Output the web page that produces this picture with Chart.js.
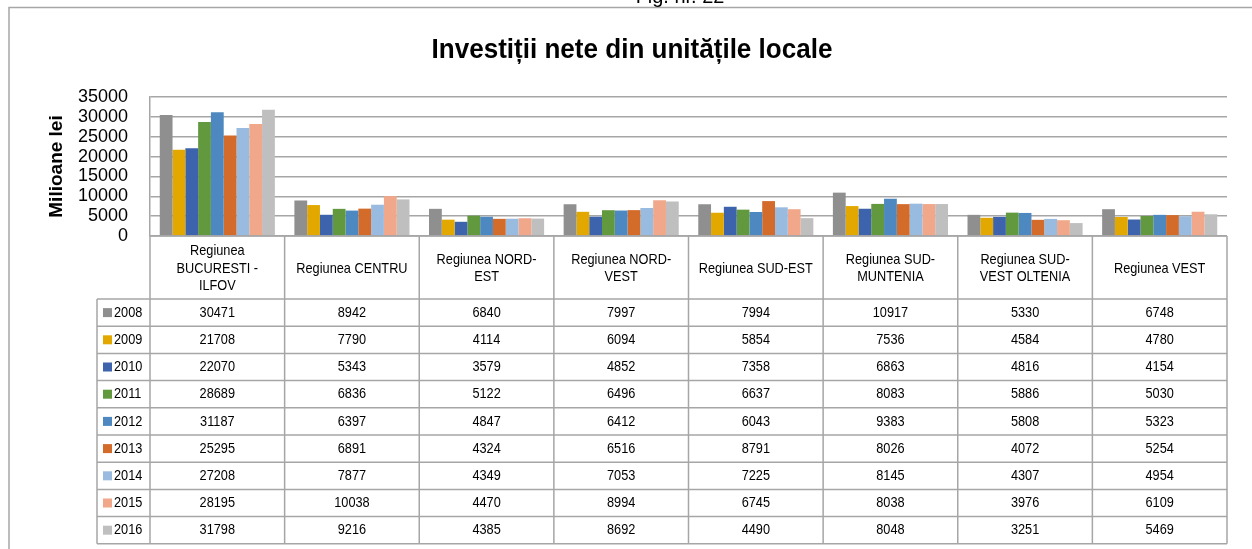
<!DOCTYPE html>
<html>
<head>
<meta charset="utf-8">
<script src="https://cdn.jsdelivr.net/npm/chart.js@4/dist/chart.umd.min.js"></script>
<style>
  html, body { margin: 0; padding: 0; background: #ffffff; }
  #wrap { width: 1252px; height: 549px; position: relative; }
</style>
</head>
<body>
<div id="wrap"><canvas id="c" width="1252" height="549"></canvas></div>
<script>
const categories = [
  ["Regiunea", "BUCURESTI -", "ILFOV"],
  ["Regiunea CENTRU"],
  ["Regiunea NORD-", "EST"],
  ["Regiunea NORD-", "VEST"],
  ["Regiunea SUD-EST"],
  ["Regiunea SUD-", "MUNTENIA"],
  ["Regiunea SUD-", "VEST OLTENIA"],
  ["Regiunea VEST"]
];
const years = ["2008", "2009", "2010", "2011", "2012", "2013", "2014", "2015", "2016"];
const v2008 = [30471, 8942, 6840, 7997, 7994, 10917, 5330, 6748];
const v2009 = [21708, 7790, 4114, 6094, 5854, 7536, 4584, 4780];
const v2010 = [22070, 5343, 3579, 4852, 7358, 6863, 4816, 4154];
const v2011 = [28689, 6836, 5122, 6496, 6637, 8083, 5886, 5030];
const v2012 = [31187, 6397, 4847, 6412, 6043, 9383, 5808, 5323];
const v2013 = [25295, 6891, 4324, 6516, 8791, 8026, 4072, 5254];
const v2014 = [27208, 7877, 4349, 7053, 7225, 8145, 4307, 4954];
const v2015 = [28195, 10038, 4470, 8994, 6745, 8038, 3976, 6109];
const v2016 = [31798, 9216, 4385, 8692, 4490, 8048, 3251, 5469];
const seriesValues = [v2008, v2009, v2010, v2011, v2012, v2013, v2014, v2015, v2016];
const yTicks = [0, 5000, 10000, 15000, 20000, 25000, 30000, 35000];
const titleText = 'Investiții nete din unitățile locale';
const figText = 'Fig. nr. 22';

const colors = ["#8f8f8f", "#e2a800", "#3d63ad", "#62993e", "#4e88c0", "#d36c2b", "#9abbe0", "#f0a78a", "#bfbfbf"];
const lineColor = "#a6a6a6";
const sans = "'Liberation Sans', Arial, sans-serif";

function narrowText(ctx, text, x, y, sx) {
  ctx.save();
  ctx.translate(x, y);
  ctx.scale(sx, 1);
  ctx.fillText(text, 0, 0);
  ctx.restore();
}

const datasets = years.map((y, i) => ({
  label: y,
  data: seriesValues[i],
  backgroundColor: colors[i],
  borderWidth: 0,
  categoryPercentage: 0.855,
  barPercentage: 1.0
}));

const frame = {
  id: 'frame',
  beforeDraw(chart) {
    const ctx = chart.ctx;
    ctx.save();
    ctx.strokeStyle = lineColor;
    ctx.lineWidth = 1.5;
    ctx.beginPath();
    ctx.moveTo(9, 549); ctx.lineTo(9, 7.5); ctx.lineTo(1252, 7.5);
    ctx.stroke();
    ctx.fillStyle = '#000';
    ctx.textAlign = 'center';
    ctx.textBaseline = 'alphabetic';
    ctx.font = "21px " + sans;
    narrowText(ctx, figText, 680, 3, 0.95);
    ctx.font = "bold 28px " + sans;
    narrowText(ctx, titleText, 632, 58, 0.93);
    ctx.restore();
  }
};

const dataTable = {
  id: 'dataTable',
  afterDraw(chart) {
    const ctx = chart.ctx;
    const x = chart.scales.x;
    const {left, right, bottom} = chart.chartArea;
    const n = categories.length;
    const colW = (right - left) / n;
    const headerH = 63;
    const rowH = 27.2;
    const legendLeft = 97;
    const rowsTop = bottom + headerH;
    const tableBottom = rowsTop + rowH * years.length;
    const sx = 0.85;
    ctx.save();
    ctx.strokeStyle = lineColor;
    ctx.lineWidth = 1.5;
    ctx.beginPath();
    ctx.moveTo(left, bottom); ctx.lineTo(right, bottom);
    for (let i = 0; i <= n; i++) {
      const bx = i < n ? x.getPixelForValue(i) - colW / 2 : x.getPixelForValue(n - 1) + colW / 2;
      ctx.moveTo(bx, bottom); ctx.lineTo(bx, tableBottom);
    }
    ctx.moveTo(legendLeft, rowsTop); ctx.lineTo(legendLeft, tableBottom);
    for (let r = 0; r <= years.length; r++) {
      const yy = rowsTop + r * rowH;
      ctx.moveTo(legendLeft, yy); ctx.lineTo(right, yy);
    }
    ctx.stroke();

    ctx.fillStyle = '#000';
    ctx.textAlign = 'center';
    ctx.textBaseline = 'middle';
    ctx.font = "15px " + sans;
    const lh = 17.5;
    categories.forEach((lines, i) => {
      const cx = x.getPixelForValue(i);
      const cy = bottom + headerH / 2 + 1;
      const start = cy - (lines.length - 1) * lh / 2;
      lines.forEach((t, k) => narrowText(ctx, t, cx, start + k * lh, sx));
    });
    years.forEach((y, r) => {
      const cy = rowsTop + r * rowH + rowH / 2;
      ctx.fillStyle = colors[r];
      ctx.fillRect(legendLeft + 6, cy - 4.5, 9, 9);
      ctx.fillStyle = '#000';
      ctx.textAlign = 'left';
      narrowText(ctx, y, legendLeft + 17, cy, sx);
      ctx.textAlign = 'center';
      seriesValues[r].forEach((v, i) => {
        narrowText(ctx, String(v), x.getPixelForValue(i), cy, sx);
      });
    });
    ctx.restore();
  }
};

new Chart(document.getElementById('c'), {
  type: 'bar',
  data: { labels: categories.map(c => c.join(' ')), datasets },
  options: {
    responsive: false,
    animation: false,
    devicePixelRatio: 1,
    layout: { padding: { left: 0, right: 25, top: 97, bottom: 313 } },
    plugins: {
      legend: { display: false },
      tooltip: { enabled: false },
      title: { display: false }
    },
    scales: {
      x: { display: false },
      y: {
        min: 0, max: 35000,
        afterFit(scale) { scale.width = 150; },
        afterBuildTicks(scale) { scale.ticks = yTicks.map(v => ({ value: v })); },
        ticks: {
          color: '#000',
          autoSkip: false,
          font: { family: sans, size: 18, lineHeight: 1 },
          padding: 22,
          callback: (v) => String(v)
        },
        grid: { color: lineColor, lineWidth: 1.5, drawTicks: false },
        border: { display: true, color: lineColor, width: 1.5 },
        title: {
          display: true,
          text: 'Milioane lei',
          color: '#000',
          font: { family: sans, size: 19, weight: 'bold', lineHeight: 1.2 },
          padding: { top: 45, bottom: 0 }
        }
      }
    }
  },
  plugins: [frame, dataTable]
});
</script>
</body>
</html>
